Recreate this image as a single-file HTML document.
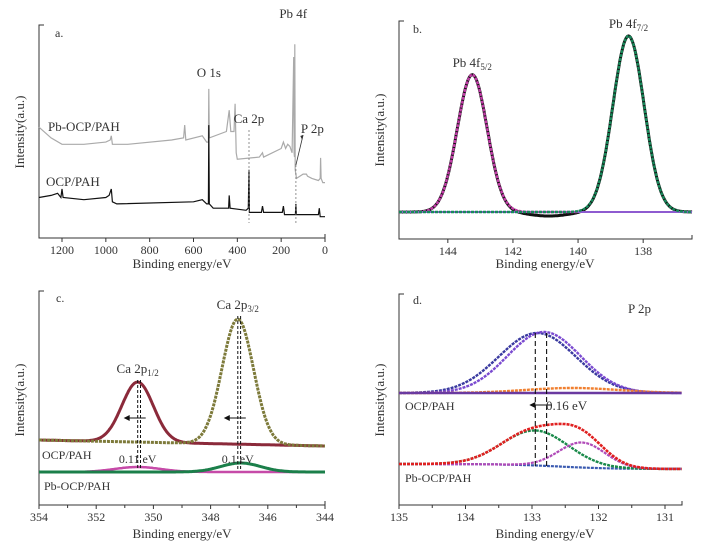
<!DOCTYPE html>
<html><head><meta charset="utf-8"><style>
body{margin:0;background:#fff}
svg{display:block;font-family:"Liberation Serif",serif}
text{fill:#333}
</style></head><body>
<svg id="fig" width="708" height="546" xmlns="http://www.w3.org/2000/svg"></svg>
<script>
// ---- Panel a data (survey) [eV, intensity] ----
const surveyPbEV=[1305,1250,1200,1100,1000,980,975,970,900,700,645,640,635,560,540,532,530,528,450,437,430,415,410,405,400,300,285,280,200,190,180,170,160,150,143,141,139,138,136,130,100,85,80,60,30,22,20,18,10,0];
const surveyPbI=[52,47,44,44,45,46,48,44,44,46,47,53,46,48,45,45,70,47,50,60,50,50,63,40,37,38,40,38,42,45,42,44,43,40,85,40,38,91,32,28,30,30,29,28,27,28,37.6,28,26,26];
const surveyOcpEV=[1305,1250,1220,1205,1200,1195,1100,1000,985,975,970,950,600,560,540,532,530,528,510,440,437,433,360,350,347,345,290,285,280,195,190,185,135,133,131,30,26,22,0];
const surveyOcpI=[19,20,21,19,23,19,18,19,20,23,17,16,17,18,16,16,53,16,14,14,20,14,13,14,32,12,12,15,12,12,15,11,11,16,11,11,14,10,10];
const aTicks=[1200,1000,800,600,400,200,0];
// ---- Panel b (Pb 4f) ----
const bCenters=[143.25,138.45];
const bHeights=[78,100];
const bSigmas=[0.46,0.48];
const bTicks=[144,142,140,138];
// ---- Panel c (Ca 2p) ----
const cCenters=[350.55,347.05];
const cOcpHeights=[60,125];
const cPbHeights=[5,9];
const cSigmas=[0.55,0.55];
const cOcpBase=[65,59];
const cPbBase=[33,33];
const cTicks=[354,352,350,348,346,344];
// ---- Panel d (P 2p) ----
const dOcpCenters=[132.92,132.82,132.4];
const dOcpHeights=[60,61,5];
const dOcpSigmas=[0.58,0.55,0.7];
const dOcpBase=[112,112];
const dPbCenters=[132.95,132.25];
const dPbHeights=[35,25];
const dPbSigmas=[0.5,0.35];
const dPbBase=[41,36];
const dTicks=[135,134,133,132,131];

const NS="http://www.w3.org/2000/svg";
const svg=document.getElementById('fig');
function mk(tag,attrs,parent){const e=document.createElementNS(NS,tag);for(const k in attrs)e.setAttribute(k,attrs[k]);(parent||svg).appendChild(e);return e;}
function lin(d0,d1,r0,r1){return v=>r0+(v-d0)/(d1-d0)*(r1-r0);}
function g(x,c,h,s){return h*Math.exp(-0.5*((x-c)/s)**2);}
function poly(pts,stroke,w,name,dash){
  const p=mk('polyline',{points:pts.map(q=>q[0].toFixed(1)+','+q[1].toFixed(1)).join(' '),fill:'none',stroke:stroke,'stroke-width':w});
  if(dash)p.setAttribute('stroke-dasharray',dash);
  
  
  return p;
}
function txt(x,y,s,size,name,anchor,rot){
  const t=mk('text',{x:x,y:y,'font-size':size,'text-anchor':anchor||'middle'});
  if(rot)t.setAttribute('transform','rotate(-90 '+x+' '+y+')');
  t.innerHTML=s;
  
  
  return t;
}
function frame(L,T,R,B,X,ticks,minor,prefix){
  poly([[L+5,T],[L,T],[L,B],[R,B],[R,B-4]],'#333',1,prefix+'-axes');
  ticks.forEach(t=>{const x=X(t);mk('line',{x1:x,y1:B,x2:x,y2:B+4,stroke:'#333'});
    txt(x,B+16,t,12,prefix+'-x-tick-label');});
  if(minor){for(let i=0;i<ticks.length-1;i++){const x=X((ticks[i]+ticks[i+1])/2);mk('line',{x1:x,y1:B,x2:x,y2:B+3,stroke:'#333'});}}
}
function sample(x0,x1,n,f){const a=[];for(let i=0;i<=n;i++){const x=x0+(x1-x0)*i/n;a.push([x,f(x)]);}return a;}

// ===== Panel a =====
{const L=39,T=25,R=325,B=238;const X=lin(1305,0,L,R),Y=lin(0,100,B,T);
frame(L,T,R,B,X,aTicks,false,'panel-a');
poly(surveyPbEV.map((e,i)=>[X(e),Y(surveyPbI[i])]),'#aaa',1.2,'pb-ocp-pah-survey');
poly(surveyOcpEV.map((e,i)=>[X(e),Y(surveyOcpI[i])]),'#111',1.2,'ocp-pah-survey');
poly([[X(347),130],[X(347),223]],'#777',0.8,'ca2p-marker','2,2');
poly([[X(133),165],[X(133),223]],'#777',0.8,'p2p-marker','2,2');
poly([[X(133),165],[X(100),135]],'#333',0.8,'p2p-arrow');
mk('polygon',{points:`${X(100)},135 ${X(108)-1},136 ${X(104)},140`,fill:'#333'});
txt(55,37,'a.',12,'panel-a-label','start');
txt(X(530),77,'O 1s',13,'o1s-label');txt(X(145),18,'Pb 4f',13,'pb4f-label');
txt(X(347),123,'Ca 2p',13,'ca2p-label');txt(X(110),133,'P 2p',13,'p2p-label','start');
txt(48,131,'Pb-OCP/PAH',13,'pb-ocp-pah-label','start');txt(46,186,'OCP/PAH',13,'ocp-pah-label','start');
txt(24,132,'Intensity(a.u.)',13,'panel-a-y-title','middle',true);
txt(182,268,'Binding energy/eV',13,'panel-a-x-title');}

// ===== Panel b =====
{const L=399,T=21,R=692,B=239;const X=lin(145.5,136.5,L,R),Y=lin(0,100,212,36);
frame(L,T,R,B,X,bTicks,false,'panel-b');
const dip=x=>-2.3*Math.exp(-0.5*((x-140.9)/0.6)**2);
poly(sample(145.5,136.5,300,x=>g(x,bCenters[0],bHeights[0],bSigmas[0])+g(x,bCenters[1],bHeights[1],bSigmas[1])+dip(x)).map(q=>[X(q[0]),Y(q[1])]),'#111',3,'pb4f-raw-data');
poly(sample(145.5,136.5,300,x=>0).map(q=>[X(q[0]),Y(q[1])]),'#8e5bd0',2,'pb4f-background');
poly(sample(145.5,140,200,x=>g(x,bCenters[0],bHeights[0],bSigmas[0])).map(q=>[X(q[0]),Y(q[1])]),'#c33ca8',2.4,'pb4f52-fit','3,1');
poly(sample(145.5,136.5,300,x=>g(x,bCenters[1],bHeights[1],bSigmas[1])).map(q=>[X(q[0]),Y(q[1])]),'#17895a',2.4,'pb4f72-fit','3,1');
txt(413,33,'b.',12,'panel-b-label','start');
txt(X(bCenters[0]),67,'Pb 4f<tspan font-size="9" dy="3">5/2</tspan>',13,'pb4f52-label');
txt(X(bCenters[1]),28,'Pb 4f<tspan font-size="9" dy="3">7/2</tspan>',13,'pb4f72-label');
txt(384,130,'Intensity(a.u.)',13,'panel-b-y-title','middle',true);
txt(545,268,'Binding energy/eV',13,'panel-b-x-title');}

// ===== Panel c =====
{const L=39,T=291,R=325,B=505;const X=lin(354,344,L,R),Y=lin(0,100,B,B-100);
frame(L,T,R,B,X,cTicks,true,'panel-c');
const base=(b,x)=>b[0]+(b[1]-b[0])*(354-x)/10;
poly(sample(354,344,300,x=>base(cOcpBase,x)+g(x,cCenters[0],cOcpHeights[0],cSigmas[0])).map(q=>[X(q[0]),Y(q[1])]),'#8b2a3a',3,'ca2p12-ocp-fit');
poly(sample(354,344,300,x=>base(cOcpBase,x)+g(x,cCenters[1],cOcpHeights[1],cSigmas[1])).map(q=>[X(q[0]),Y(q[1])]),'#7d7a3a',3,'ca2p32-ocp-fit','3,1');
poly(sample(354,344,300,x=>base(cPbBase,x)+g(x,cCenters[0],cPbHeights[0],0.8)).map(q=>[X(q[0]),Y(q[1])]),'#c64aa8',2.5,'ca2p12-pb-fit');
poly(sample(354,344,300,x=>base(cPbBase,x)+g(x,cCenters[1]-0.1,cPbHeights[1],0.7)).map(q=>[X(q[0]),Y(q[1])]),'#1b7f4a',3,'ca2p32-pb-fit');
[[cCenters[0],380],[cCenters[0]-0.1,380],[cCenters[1],316],[cCenters[1]-0.1,316]].forEach(p=>poly([[X(p[0]),p[1]],[X(p[0]),470]],'#111',1,'peak-shift-line','3,2'));
[cCenters[0],cCenters[1]].forEach(c=>{poly([[X(c)-12,418],[X(c)+8,418]],'#111',1,'shift-arrow');mk('polygon',{points:`${X(c)-14},418 ${X(c)-8},415 ${X(c)-8},421`,fill:'#111'});});
txt(56,302,'c.',12,'panel-c-label','start');
txt(X(cCenters[0]),373,'Ca 2p<tspan font-size="9" dy="3">1/2</tspan>',13,'ca2p12-label');
txt(X(cCenters[1]),309,'Ca 2p<tspan font-size="9" dy="3">3/2</tspan>',13,'ca2p32-label');
txt(X(cCenters[0]),463,'0.11 eV',12,'ca2p12-shift-label');txt(X(cCenters[1]),463,'0.1 eV',12,'ca2p32-shift-label');
txt(42,459,'OCP/PAH',12,'ocp-pah-label','start');txt(44,490,'Pb-OCP/PAH',12,'pb-ocp-pah-label','start');
txt(24,400,'Intensity(a.u.)',13,'panel-c-y-title','middle',true);
txt(182,538,'Binding energy/eV',13,'panel-c-x-title');}

// ===== Panel d =====
{const L=399,T=294,R=682,B=505;const X=lin(135,131,L,665),Y=lin(0,100,B,B-100);
frame(L,T,R,B,X,dTicks,true,'panel-d');
const sig=(b,x)=>b[1]+(b[0]-b[1])/(1+Math.exp(-(x-132.6)/0.4));
const cols=['#3a3aa0','#7a4ad0','#f08030'];
dOcpCenters.forEach((c,i)=>poly(sample(135,130.75,250,x=>dOcpBase[0]+g(x,c,dOcpHeights[i],dOcpSigmas[i])).map(q=>[X(q[0]),Y(q[1])]),cols[i],2.4,'p2p-ocp-component-'+(i+1),'3,1'));
poly(sample(135,130.75,100,x=>dOcpBase[0]).map(q=>[X(q[0]),Y(q[1])]),'#6a3aa0',2.4,'p2p-ocp-background');
poly(sample(135,130.75,250,x=>sig(dPbBase,x)).map(q=>[X(q[0]),Y(q[1])]),'#3a5ab0',2.2,'p2p-pb-background','3,1');
poly(sample(135,130.75,250,x=>sig(dPbBase,x)+g(x,dPbCenters[0],dPbHeights[0],dPbSigmas[0])).map(q=>[X(q[0]),Y(q[1])]),'#1a8a4a',2.4,'p2p-pb-component-1','3,1');
poly(sample(135,130.75,250,x=>sig(dPbBase,x)+g(x,dPbCenters[1],dPbHeights[1],dPbSigmas[1])).map(q=>[X(q[0]),Y(q[1])]),'#b04ab8',2.2,'p2p-pb-component-2','3,1');
poly(sample(135,130.75,250,x=>sig(dPbBase,x)+g(x,dPbCenters[0],dPbHeights[0],dPbSigmas[0])+g(x,dPbCenters[1],dPbHeights[1],dPbSigmas[1])).map(q=>[X(q[0]),Y(q[1])]),'#e02020',2.6,'p2p-pb-envelope','3,1');
[dPbCenters[0],132.78].forEach(c=>poly([[X(c),333],[X(c),467]],'#111',1.1,'peak-shift-line','5,3'));
poly([[X(132.95)-4,405],[X(132.78)+5,405]],'#111',1,'shift-arrow');
mk('polygon',{points:`${X(132.95)-6},405 ${X(132.95)},402 ${X(132.95)},408`,fill:'#111'});
txt(413,304,'d.',12,'panel-d-label','start');
txt(628,313,'P 2p',13,'p2p-label','start');
txt(546,410,'0.16 eV',13,'p2p-shift-label','start');
txt(405,410,'OCP/PAH',12,'ocp-pah-label','start');txt(405,482,'Pb-OCP/PAH',12,'pb-ocp-pah-label','start');
txt(384,400,'Intensity(a.u.)',13,'panel-d-y-title','middle',true);
txt(545,538,'Binding energy/eV',13,'panel-d-x-title');}
</script>
</body></html>
